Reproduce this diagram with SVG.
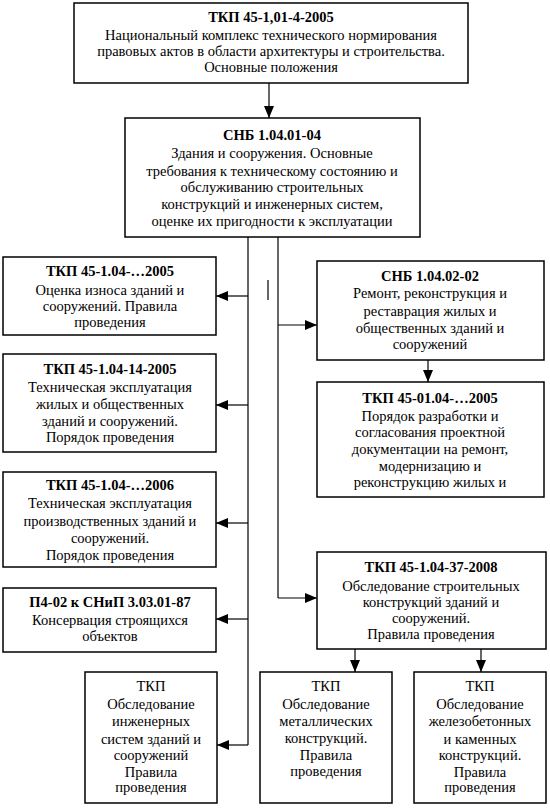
<svg xmlns="http://www.w3.org/2000/svg" width="550" height="810" viewBox="0 0 550 810">
<style>
.box{fill:#fff;stroke:#000;stroke-width:1.5}
.ln{fill:none;stroke:#000;stroke-width:1.2}
text{font-family:"Liberation Serif","Times New Roman",serif;font-size:14.5px;fill:#000;text-anchor:middle}
.h{font-weight:bold}
</style>
<defs>
<marker id="ar" markerUnits="userSpaceOnUse" markerWidth="12" markerHeight="10" refX="12" refY="5" orient="auto">
<path d="M0,0 L12,5 L0,10 Z" fill="#000"/>
</marker>
</defs>
<rect width="550" height="810" fill="#fff"/>
<g id="connectors">
<line class="ln" x1="269" y1="83" x2="269" y2="118" marker-end="url(#ar)"/>
<line class="ln" x1="248" y1="237" x2="248" y2="745"/>
<line class="ln" x1="278" y1="237" x2="278" y2="598"/>
<line class="ln" x1="248" y1="296" x2="216" y2="296" marker-end="url(#ar)"/>
<line class="ln" x1="248" y1="405" x2="216" y2="405" marker-end="url(#ar)"/>
<line class="ln" x1="248" y1="523" x2="216" y2="523" marker-end="url(#ar)"/>
<line class="ln" x1="248" y1="619" x2="216" y2="619" marker-end="url(#ar)"/>
<line class="ln" x1="248" y1="745" x2="217" y2="745" marker-end="url(#ar)"/>
<line class="ln" x1="278" y1="325" x2="317" y2="325" marker-end="url(#ar)"/>
<line class="ln" x1="428" y1="360" x2="428" y2="382" marker-end="url(#ar)"/>
<line class="ln" x1="278" y1="598" x2="317" y2="598" marker-end="url(#ar)"/>
<line class="ln" x1="355" y1="649" x2="355" y2="672" marker-end="url(#ar)"/>
<line class="ln" x1="481" y1="649" x2="481" y2="672" marker-end="url(#ar)"/>
<line class="ln" x1="268" y1="280" x2="268" y2="300" stroke-width="1.5"/>
</g>
<g id="n-top">
<rect class="box" x="74" y="3" width="394" height="80"/>
<text class="h" x="271" y="22">ТКП 45-1,01-4-2005</text>
<text x="271" y="40">Национальный комплекс технического нормирования</text>
<text x="271" y="56">правовых актов в области архитектуры и строительства.</text>
<text x="271" y="72">Основные положения</text>
</g>
<g id="n-snb">
<rect class="box" x="125" y="118" width="295" height="119"/>
<text class="h" x="272" y="140">СНБ 1.04.01-04</text>
<text x="272" y="158">Здания и сооружения. Основные</text>
<text x="272" y="176">требования к техническому состоянию и</text>
<text x="272" y="192">обслуживанию строительных</text>
<text x="272" y="209">конструкций и инженерных систем,</text>
<text x="272" y="226">оценке их пригодности к эксплуатации</text>
</g>
<g id="n-l1">
<rect class="box" x="3" y="257" width="213" height="78"/>
<text class="h" x="110" y="276">ТКП 45-1.04-…2005</text>
<text x="110" y="295">Оценка износа зданий и</text>
<text x="110" y="311">сооружений. Правила</text>
<text x="110" y="327">проведения</text>
</g>
<g id="n-l2">
<rect class="box" x="3" y="354" width="213" height="98"/>
<text class="h" x="110" y="374">ТКП 45-1.04-14-2005</text>
<text x="110" y="392">Техническая эксплуатация</text>
<text x="110" y="409">жилых и общественных</text>
<text x="110" y="426">зданий и сооружений.</text>
<text x="110" y="442">Порядок проведения</text>
</g>
<g id="n-l3">
<rect class="box" x="3" y="472" width="213" height="95"/>
<text class="h" x="110" y="490">ТКП 45-1.04-…2006</text>
<text x="110" y="508">Техническая эксплуатация</text>
<text x="110" y="526">производственных  зданий и</text>
<text x="110" y="543">сооружений.</text>
<text x="110" y="560">Порядок проведения</text>
</g>
<g id="n-l4">
<rect class="box" x="3" y="588" width="213" height="64"/>
<text class="h" x="110" y="607">П4-02 к СНиП 3.03.01-87</text>
<text x="110" y="625">Консервация строящихся</text>
<text x="110" y="641">объектов</text>
</g>
<g id="n-r1">
<rect class="box" x="317" y="261" width="227" height="99"/>
<text class="h" x="430" y="281">СНБ 1.04.02-02</text>
<text x="430" y="298">Ремонт, реконструкция и</text>
<text x="430" y="316">реставрация  жилых и</text>
<text x="430" y="333">общественных зданий и</text>
<text x="430" y="349">сооружений</text>
</g>
<g id="n-r2">
<rect class="box" x="317" y="382" width="227" height="115"/>
<text class="h" x="430" y="403">ТКП 45-01.04-…2005</text>
<text x="430" y="421">Порядок разработки и</text>
<text x="430" y="437">согласования проектной</text>
<text x="430" y="454">документации на ремонт,</text>
<text x="430" y="471">модернизацию и</text>
<text x="430" y="487">реконструкцию жилых и</text>
</g>
<g id="n-r3">
<rect class="box" x="317" y="552" width="229" height="97"/>
<text class="h" x="431" y="572">ТКП 45-1.04-37-2008</text>
<text x="431" y="591">Обследование строительных</text>
<text x="431" y="607">конструкций зданий и</text>
<text x="431" y="623">сооружений.</text>
<text x="431" y="639">Правила проведения</text>
</g>
<g id="n-b1">
<rect class="box" x="85" y="672" width="132" height="131"/>
<text x="151" y="691">ТКП</text>
<text x="151" y="709">Обследование</text>
<text x="151" y="726">инженерных</text>
<text x="151" y="744">систем зданий и</text>
<text x="151" y="760">сооружений</text>
<text x="151" y="777">Правила</text>
<text x="151" y="792">проведения</text>
</g>
<g id="n-b2">
<rect class="box" x="260" y="672" width="132" height="131"/>
<text x="326" y="691">ТКП</text>
<text x="326" y="709">Обследование</text>
<text x="326" y="726">металлических</text>
<text x="326" y="743">конструкций.</text>
<text x="326" y="760">Правила</text>
<text x="326" y="776">проведения</text>
</g>
<g id="n-b3">
<rect class="box" x="414" y="672" width="132" height="131"/>
<text x="480" y="691">ТКП</text>
<text x="480" y="709">Обследование</text>
<text x="480" y="726">железобетонных</text>
<text x="480" y="744">и каменных</text>
<text x="480" y="760">конструкций.</text>
<text x="480" y="777">Правила</text>
<text x="480" y="792">проведения</text>
</g>
</svg>
